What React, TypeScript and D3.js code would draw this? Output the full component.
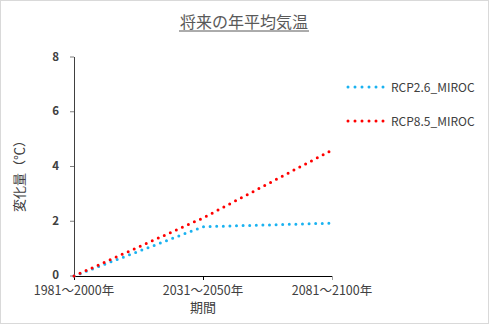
import React from "react";
import * as d3 from "d3";

const categories = ["1981～2000年", "2031～2050年", "2081～2100年"];
const rcp26 = [0, 1.8, 1.93];
const rcp85 = [0, 2.12, 4.6];
const yTicks = [0, 2, 4, 6, 8];
const seriesNames = ["RCP2.6_MIROC", "RCP8.5_MIROC"];
const seriesColors = ["#1ab2f0", "#ff0000"];

const W = 490, H = 326;
const FONT = "'Noto Sans CJK JP', 'DejaVu Sans', sans-serif";

export default function App() {
  const x = d3.scalePoint<string>().domain(categories).range([74, 332]);
  const y = d3.scaleLinear().domain([0, 8]).range([276, 57]);
  const line = d3.line<number>().x((_, i) => x(categories[i])!).y((d) => y(d));
  const series = [rcp26, rcp85];
  return (
    <div style={{ position: "absolute", left: 0, top: 0 }}>
      <svg width={W} height={H} style={{ display: "block", fontFamily: FONT }}>
        <rect x={0.5} y={0.5} width={W - 2} height={H - 3} fill="#fff" stroke="#d9d9d9" />
        <text x={244} y={28} textAnchor="middle" fontSize={16} fill="#595959">将来の年平均気温</text>
        <line x1={179} x2={309} y1={31} y2={31} stroke="#595959" />
        {yTicks.map((t) => (
          <g key={t}>
            <line x1={70} x2={74} y1={y(t)} y2={y(t)} stroke="#7f7f7f" />
            <text x={59} y={y(t) + (t === 0 ? 2.5 : 3.5)} textAnchor="end" fontSize={11.5} fontWeight="bold" fill="#404040">{t}</text>
          </g>
        ))}
        <line x1={74.5} x2={74.5} y1={57} y2={276} stroke="#404040" />
        <line x1={74} x2={332} y1={276.5} y2={276.5} stroke="#000" />
        {categories.map((c) => (
          <g key={c}>
            <line x1={x(c)! + 0.5} x2={x(c)! + 0.5} y1={276} y2={280} stroke={c === categories[2] ? "#a0a0a0" : "#000"} />
            <text x={x(c)} y={294.5} textAnchor="middle" fontSize={12.5} fill="#404040">{c}</text>
          </g>
        ))}
        <text x={203} y={312} textAnchor="middle" fontSize={13} fill="#404040">期間</text>
        <text transform={`translate(24,173) rotate(-90)`} textAnchor="middle" fontSize={13} fill="#404040">変化量（℃）</text>
        {series.map((s, i) => (
          <path key={i} d={line(s)!} fill="none" stroke={seriesColors[i]} strokeWidth={3} strokeLinecap="round" strokeDasharray="0 6.6" />
        ))}
        {seriesNames.map((n, i) => (
          <g key={n}>
            <line x1={348} x2={385} y1={87 + i * 34} y2={87 + i * 34} stroke={seriesColors[i]} strokeWidth={3} strokeLinecap="round" strokeDasharray="0 7" />
            <text x={391} y={91.5 + i * 34} fontSize={12} fill="#404040">{n}</text>
          </g>
        ))}
      </svg>
    </div>
  );
}
